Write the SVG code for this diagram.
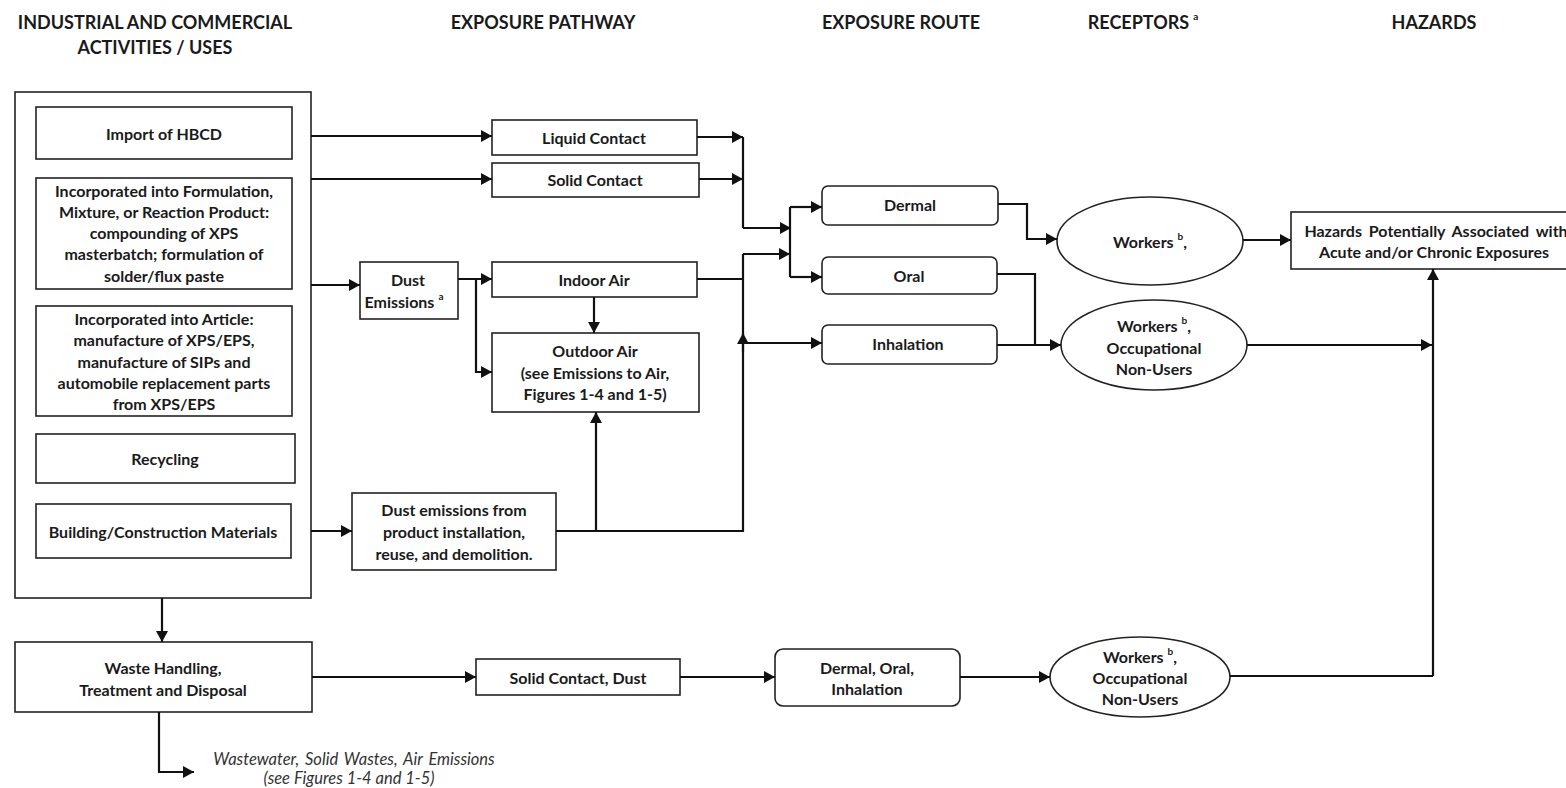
<svg xmlns="http://www.w3.org/2000/svg" width="1566" height="788" viewBox="0 0 1566 788">
<style>
text{font-family:Lato,"Liberation Sans",sans-serif;fill:#1a1a1a;dominant-baseline:central;text-anchor:middle}
.h{font-size:18px;font-weight:bold}
.t{font-size:16px;font-weight:bold}
.i{font-size:16.5px;font-style:italic;fill:#333}
.b{fill:#fff;stroke:#222;stroke-width:1.6}
.c{fill:none;stroke:#111;stroke-width:2.2}
.a{marker-end:url(#ah)}
.sup{font-size:10px}
</style>
<defs>
<marker id="ah" viewBox="0 0 11 12" markerUnits="userSpaceOnUse" markerWidth="11" markerHeight="12" refX="11" refY="6" orient="auto">
<path d="M0,0 L11,6 L0,12 z" fill="#111"/>
</marker>
</defs>
<rect width="1566" height="788" fill="#fff"/>

<g id="headers">
<text class="h" x="155" y="22">INDUSTRIAL AND COMMERCIAL</text>
<text class="h" x="155" y="47">ACTIVITIES / USES</text>
<text class="h" x="543" y="22">EXPOSURE PATHWAY</text>
<text class="h" x="901" y="22">EXPOSURE ROUTE</text>
<text class="h" x="1143" y="22">RECEPTORS<tspan class="sup" dx="4" dy="-6">a</tspan></text>
<text class="h" x="1434" y="22">HAZARDS</text>
</g>

<g id="activities">
<rect class="b" x="15" y="92" width="296" height="506"/>
</g>
<g id="import">
<rect class="b" x="36" y="107" width="256" height="52"/>
<text class="t" x="164" y="133">Import of HBCD</text>
</g>
<g id="formulation">
<rect class="b" x="36" y="178" width="256" height="111"/>
<text class="t" x="164" y="190">Incorporated into Formulation,</text>
<text class="t" x="164" y="211">Mixture, or Reaction Product:</text>
<text class="t" x="164" y="232">compounding of XPS</text>
<text class="t" x="164" y="253">masterbatch; formulation of</text>
<text class="t" x="164" y="275">solder/flux paste</text>
</g>
<g id="article">
<rect class="b" x="36" y="306" width="256" height="110"/>
<text class="t" x="164" y="318">Incorporated into Article:</text>
<text class="t" x="164" y="339">manufacture of XPS/EPS,</text>
<text class="t" x="164" y="361">manufacture of SIPs and</text>
<text class="t" x="164" y="382">automobile replacement parts</text>
<text class="t" x="164" y="403">from XPS/EPS</text>
</g>
<g id="recycling">
<rect class="b" x="36" y="434" width="259" height="49"/>
<text class="t" x="165" y="458">Recycling</text>
</g>
<g id="building">
<rect class="b" x="36" y="504" width="255" height="54"/>
<text class="t" x="163" y="531">Building/Construction  Materials</text>
</g>
<g id="waste">
<rect class="b" x="15" y="642" width="297" height="70"/>
<text class="t" x="163" y="667">Waste Handling,</text>
<text class="t" x="163" y="689">Treatment and Disposal</text>
</g>
<g id="wastewater-note">
<text class="i" x="354" y="759" word-spacing="2">Wastewater,  Solid Wastes, Air Emissions</text>
<text class="i" x="349" y="778">(see Figures 1-4 and 1-5)</text>
</g>

<g id="liquid-contact">
<rect class="b" x="492" y="120" width="205" height="35"/>
<text class="t" x="594" y="137">Liquid Contact</text>
</g>
<g id="solid-contact">
<rect class="b" x="492" y="163" width="207" height="34"/>
<text class="t" x="595" y="179">Solid Contact</text>
</g>
<g id="dust-emissions">
<rect class="b" x="360" y="262" width="98" height="57"/>
<text class="t" x="408" y="279">Dust</text>
<text class="t" x="404" y="301">Emissions<tspan class="sup" dx="4" dy="-5">a</tspan></text>
</g>
<g id="indoor-air">
<rect class="b" x="492" y="262" width="205" height="35"/>
<text class="t" x="594" y="279">Indoor Air</text>
</g>
<g id="outdoor-air">
<rect class="b" x="492" y="333" width="207" height="79"/>
<text class="t" x="595" y="350">Outdoor Air</text>
<text class="t" x="595" y="372">(see Emissions to Air,</text>
<text class="t" x="595" y="393">Figures 1-4 and 1-5)</text>
</g>
<g id="dust-installation">
<rect class="b" x="352" y="493" width="204" height="77"/>
<text class="t" x="454" y="509">Dust emissions from</text>
<text class="t" x="454" y="531">product installation,</text>
<text class="t" x="454" y="553">reuse, and demolition.</text>
</g>
<g id="solid-contact-dust">
<rect class="b" x="476" y="659" width="204" height="36"/>
<text class="t" x="578" y="677">Solid Contact, Dust</text>
</g>

<g id="dermal">
<rect class="b" x="822" y="186" width="176" height="39" rx="6"/>
<text class="t" x="910" y="204">Dermal</text>
</g>
<g id="oral">
<rect class="b" x="822" y="257" width="175" height="37" rx="6"/>
<text class="t" x="909" y="275">Oral</text>
</g>
<g id="inhalation">
<rect class="b" x="822" y="325" width="175" height="39" rx="6"/>
<text class="t" x="908" y="343">Inhalation</text>
</g>
<g id="dermal-oral-inhalation">
<rect class="b" x="775" y="649" width="185" height="57" rx="8"/>
<text class="t" x="867" y="667">Dermal, Oral,</text>
<text class="t" x="867" y="688">Inhalation</text>
</g>

<g id="workers-1">
<ellipse class="b" cx="1150" cy="241" rx="93" ry="44"/>
<text class="t" x="1150" y="241">Workers<tspan class="sup" dx="4" dy="-5">b</tspan><tspan dy="5">,</tspan></text>
</g>
<g id="workers-2">
<ellipse class="b" cx="1154" cy="345" rx="93" ry="45"/>
<text class="t" x="1154" y="325">Workers<tspan class="sup" dx="4" dy="-5">b</tspan><tspan dy="5">,</tspan></text>
<text class="t" x="1154" y="347">Occupational</text>
<text class="t" x="1154" y="368">Non-Users</text>
</g>
<g id="workers-3">
<ellipse class="b" cx="1140" cy="677" rx="90" ry="40"/>
<text class="t" x="1140" y="656">Workers<tspan class="sup" dx="4" dy="-5">b</tspan><tspan dy="5">,</tspan></text>
<text class="t" x="1140" y="677">Occupational</text>
<text class="t" x="1140" y="698">Non-Users</text>
</g>
<g id="hazards">
<rect class="b" x="1291" y="212" width="290" height="57"/>
<text class="t" x="1436" y="230" word-spacing="3">Hazards Potentially Associated with</text>
<text class="t" x="1434" y="251">Acute and/or Chronic Exposures</text>
</g>

<g id="connectors">
<path class="c a" d="M311,136 H492"/>
<path class="c a" d="M311,179 H492"/>
<path class="c a" d="M311,285 H360"/>
<path class="c a" d="M311,531 H352"/>
<path class="c a" d="M458,279 H492"/>
<path class="c a" d="M476,279 V372 H492"/>
<path class="c a" d="M594,297 V333"/>
<path class="c a" d="M556,531 H596 V412"/>
<path class="c" d="M596,531 H743 V254"/>
<path class="c a" d="M743,254 H790"/>
<path class="c" d="M697,279 H743"/>
<path class="c a" d="M743,352 V333"/>
<path class="c a" d="M743,343 H822"/>
<path class="c a" d="M697,137 H743"/>
<path class="c a" d="M699,179 H743"/>
<path class="c" d="M743,137 V228"/>
<path class="c a" d="M743,228 H791"/>
<path class="c" d="M790,207 V277"/>
<path class="c a" d="M790,207 H822"/>
<path class="c a" d="M790,277 H822"/>
<path class="c a" d="M998,204 H1027 V239 H1057"/>
<path class="c" d="M997,274 H1035 V345"/>
<path class="c a" d="M997,345 H1061"/>
<path class="c a" d="M1243,240 H1291"/>
<path class="c a" d="M1247,345 H1432"/>
<path class="c a" d="M1433,676 V269"/>
<path class="c" d="M1230,676 H1433"/>
<path class="c a" d="M162,598 V642"/>
<path class="c a" d="M312,677 H476"/>
<path class="c a" d="M159,712 V772 H194"/>
<path class="c a" d="M680,677 H775"/>
<path class="c a" d="M960,677 H1050"/>
</g>
</svg>
